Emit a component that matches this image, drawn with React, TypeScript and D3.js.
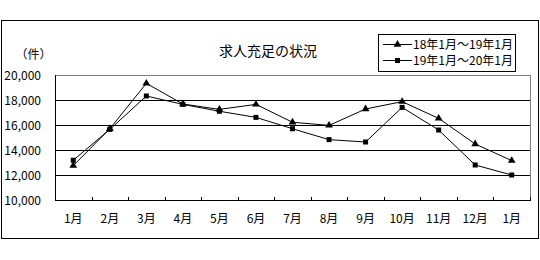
import React from "react";
import * as d3 from "d3";

const categories = ["1月", "2月", "3月", "4月", "5月", "6月", "7月", "8月", "9月", "10月", "11月", "12月", "1月"];
const series1Name = "18年1月～19年1月";
const series2Name = "19年1月～20年1月";
const series1 = [12750, 15700, 19330, 17680, 17250, 17650, 16220, 15970, 17280, 17870, 16530, 14480, 13150];
const series2 = [13180, 15650, 18320, 17650, 17100, 16610, 15700, 14830, 14640, 17410, 15600, 12800, 12000];
const yTicks = [10000, 12000, 14000, 16000, 18000, 20000];
const title = "求人充足の状況";
const unitLabel = "（件）";

const W = 540;
const H = 260;
const FONT = "'Noto Sans CJK JP', 'Noto Sans', sans-serif";

export default function App() {
  const left = 55, right = 530, top = 75, bottom = 200;
  const x = d3.scaleBand<number>().domain(categories.map((_, i) => i)).range([left, right]).paddingInner(0).paddingOuter(0);
  const y = d3.scaleLinear().domain([10000, 20000]).range([bottom, top]);
  const cx = (i: number) => (x(i) as number) + x.bandwidth() / 2;
  const line = d3.line<number>().x((_, i) => cx(i)).y((d) => y(d));
  const fmt = d3.format(",");
  const tri = d3.symbol().type(d3.symbolTriangle).size(26);
  const sq = (px: number, py: number, key: string) => (
    <rect key={key} x={px - 2.5} y={py - 2.5} width={5} height={5} fill="#000" />
  );

  return (
    <svg width={W} height={H} style={{ position: "absolute", left: 0, top: 0, background: "#fff" }} fontFamily={FONT}>
      <rect x={0} y={0} width={W} height={H} fill="#fff" />
      <rect x={1.5} y={20.5} width={537} height={218} fill="#fff" stroke="#000" strokeWidth={1} />
      <text x={268} y={56} fontSize={14} textAnchor="middle" fill="#000">{title}</text>
      <text x={33.5} y={59} fontSize={12} textAnchor="middle" fill="#000">{unitLabel}</text>

      {/* plot border */}
      <line x1={left} x2={right} y1={top + 0.5} y2={top + 0.5} stroke="#808080" />
      <line x1={right + 0.5} x2={right + 0.5} y1={top} y2={bottom} stroke="#808080" />

      {/* gridlines */}
      {yTicks.filter((t) => t > 10000 && t < 20000).map((t) => (
        <line key={"g" + t} x1={left} x2={right} y1={Math.round(y(t)) + 0.5} y2={Math.round(y(t)) + 0.5} stroke="#000" />
      ))}
      {/* axes */}
      <line x1={left + 0.5} x2={left + 0.5} y1={top} y2={bottom + 1} stroke="#000" />
      <line x1={left} x2={right + 1} y1={bottom + 0.5} y2={bottom + 0.5} stroke="#000" />
      {categories.map((_, i) => {
        const tx = Math.round((x(i) as number) + x.step()) + 0.5;
        return <line key={"t" + i} x1={tx} x2={tx} y1={bottom - 3} y2={bottom} stroke="#000" />;
      })}

      {/* y labels */}
      {yTicks.map((t) => (
        <text key={"y" + t} x={41} y={y(t) + 4.5} fontSize={12} textAnchor="end" fill="#000">{fmt(t)}</text>
      ))}
      {/* x labels */}
      {categories.map((c, i) => (
        <text key={"x" + i} x={cx(i)} y={223} fontSize={12} textAnchor="middle" fill="#000">{c}</text>
      ))}

      {/* series */}
      <path d={line(series1) as string} fill="none" stroke="#000" strokeWidth={1} />
      <path d={line(series2) as string} fill="none" stroke="#000" strokeWidth={1} />
      {series1.map((v, i) => (
        <path key={"m1" + i} d={tri() as string} transform={`translate(${cx(i)},${y(v)})`} fill="#000" />
      ))}
      {series2.map((v, i) => sq(cx(i), y(v), "m2" + i))}

      {/* legend */}
      <rect x={378.5} y={34.5} width={137} height={37} fill="#fff" stroke="#000" />
      <line x1={383} x2={412} y1={44.5} y2={44.5} stroke="#000" />
      <path d={tri() as string} transform="translate(397.5,44.5)" fill="#000" />
      <text x={413} y={49} fontSize={12} fill="#000">{series1Name}</text>
      <line x1={383} x2={412} y1={60.5} y2={60.5} stroke="#000" />
      {sq(397.5, 60.5, "lg2")}
      <text x={413} y={65} fontSize={12} fill="#000">{series2Name}</text>
    </svg>
  );
}
